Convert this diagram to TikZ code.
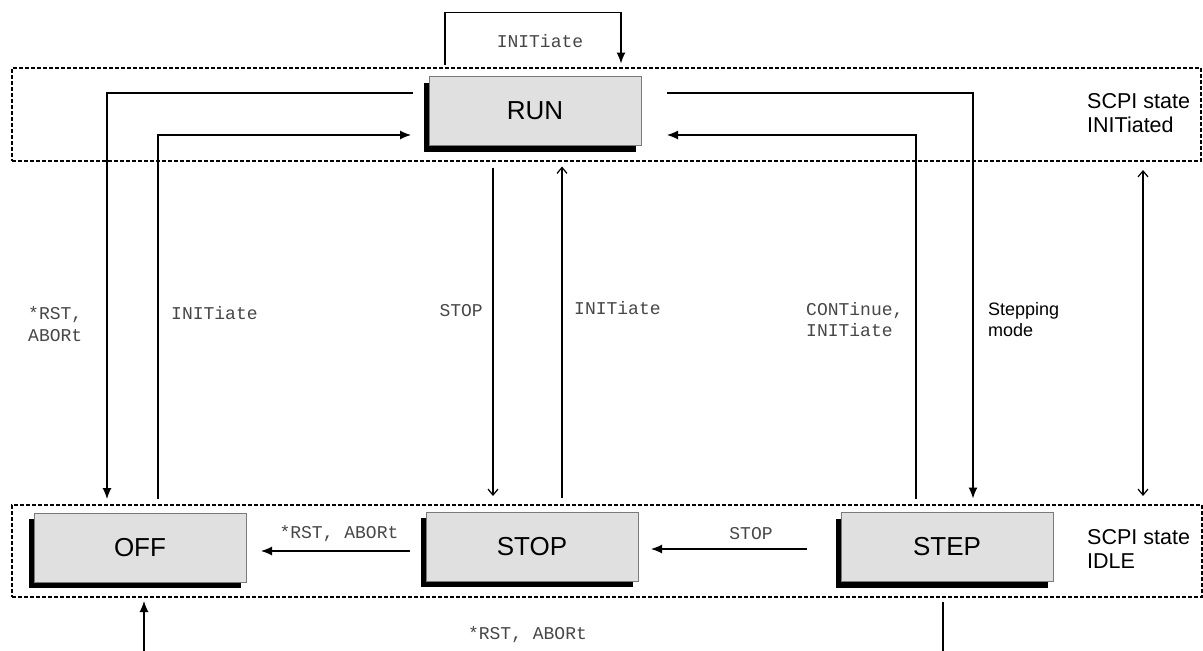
\documentclass[tikz,border=0pt]{standalone}
\usepackage{fontspec}
\setmainfont{Liberation Sans}
\newfontfamily\monofont{Liberation Mono}
\usetikzlibrary{arrows.meta,calc,shadows}
\definecolor{boxfill}{HTML}{E0E0E0}
\definecolor{boxline}{HTML}{7A7A7A}
\tikzset{
  state/.style={draw=boxline, line width=0.8pt, fill=boxfill, minimum width=212pt, minimum height=69pt,
    inner sep=0pt, outer sep=0pt, font=\fontsize{26}{30}\selectfont,
    general shadow={fill=black, shadow xshift=-5pt, shadow yshift=-6pt}},
  region/.style={draw=black, line width=1.1pt, dash pattern=on 4pt off 2pt, inner sep=0pt, outer sep=0pt},
  link/.style={draw=black, line width=1.2pt},
  arr/.style={link, -{Latex[length=11pt,width=9pt]}},
  arrv/.style={link, -{Straight Barb[length=6pt,width=10pt]}},
  arrvv/.style={link, {Straight Barb[length=6pt,width=10pt]}-{Straight Barb[length=6pt,width=10pt]}},
  mono/.style={inner sep=0pt, text=black!72, font=\monofont\fontsize{18}{22}\selectfont},
  sans/.style={inner sep=0pt, font=\fontsize{18}{21}\selectfont},
  scpi/.style={inner sep=0pt, align=left, anchor=west, font=\fontsize{21.5}{24}\selectfont}
}
\begin{document}
\begin{tikzpicture}[x=1pt,y=-1pt]
\useasboundingbox (0,0) rectangle (1203,651);
\fill[white] (0,0) rectangle (1203,651);
% regions
\node[region, minimum width=1189pt, minimum height=93pt] (initregion) at (606.5,114.5) {};
\node[region, minimum width=1190pt, minimum height=92pt] (idleregion) at (607,551) {};
% states
\node[state] (run) at (535,111) {RUN};
\node[state] (off) at (140,547.5) {OFF};
\node[state] (stop) at (532,546.5) {STOP};
\node[state] (step) at (947,547) {STEP};
% region labels
\node[scpi] (lblinit) at (1087,113) {SCPI state\\INITiated};
\node[scpi] (lblidle) at (1087,549) {SCPI state\\IDLE};
% free ends at the bottom
\coordinate (stepout) at (943,656);
\coordinate (offin) at (144,656);
% connectors
\draw[arr] ($(run.north)+(-90,-12)$) -- ++(0,-52) -| ($(run.north)+(86,-13)$);
\draw[arr] ($(run.west)+(-16,-18)$) -| ($(off.north)+(-33,-14)$);
\draw[arr] ($(off.north)+(18,-14)$) |- ($(run.west)+(-18,24)$);
\draw[arrv] ($(run.south)+(-42,22)$) -- ($(stop.north)+(-39,-16)$);
\draw[arrv] ($(stop.north)+(30,-14)$) -- ($(run.south)+(27,21)$);
\draw[arr] ($(step.north)+(-31,-14)$) |- ($(run.east)+(26,24)$);
\draw[arr] ($(run.east)+(26,-18)$) -| ($(step.north)+(26,-14)$);
\draw[arrvv] ($(initregion.south east)+(-58,9)$) -- ($(idleregion.north east)+(-59,-9)$);
\draw[arr] ($(stop.west)+(-16,4.5)$) -- ($(off.east |- stop.west)+(15,4.5)$);
\draw[arr] ($(step.west)+(-34,2)$) -- ($(stop.east |- step.west)+(13,2)$);
\draw[link] ($(step.south)+(-4,20)$) -- (stepout);
\draw[arr] (offin) -- ($(off.south)+(4,19)$);
% connector labels
\node[mono] (lloop) at (540,41) {INITiate};
\node[mono, anchor=west, align=left, font=\monofont\fontsize{18}{22}\selectfont] (lrstoff) at (28,324) {*RST,\\ABORt};
\node[mono, anchor=west] (linitoff) at (171,313) {INITiate};
\node[mono, anchor=east] (lstopv) at (483,311) {STOP};
\node[mono, anchor=west] (linitstop) at (574,308) {INITiate};
\node[mono, anchor=west, align=left, font=\monofont\fontsize{18}{21}\selectfont] (lcont) at (806,320) {CONTinue,\\INITiate};
\node[sans, anchor=west, align=left] (lstepping) at (988,320) {Stepping\\mode};
\node[mono] (lrststop) at (339,534) {*RST, ABORt};
\node[mono] (lstoph) at (751,534) {STOP};
\node[mono] (lrstbottom) at (527.5,635) {*RST, ABORt};
\end{tikzpicture}
\end{document}
